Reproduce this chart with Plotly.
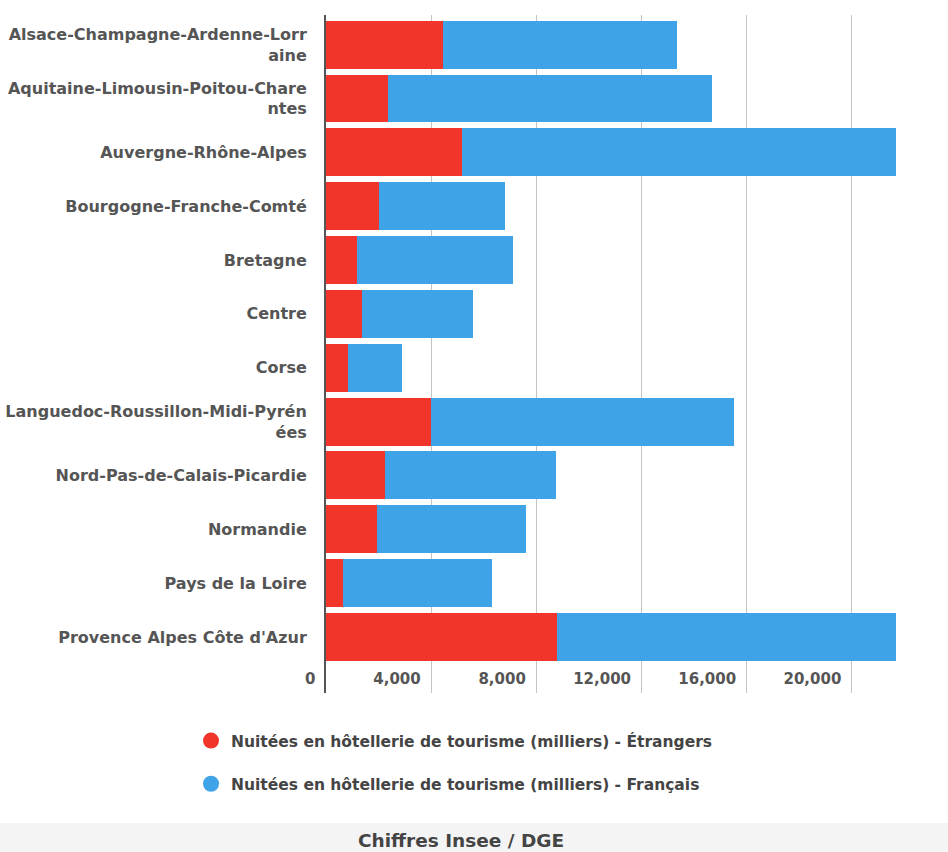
import plotly.graph_objects as go

regions = [
    "Alsace-Champagne-Ardenne-Lorr<br>aine",
    "Aquitaine-Limousin-Poitou-Chare<br>ntes",
    "Auvergne-Rhône-Alpes",
    "Bourgogne-Franche-Comté",
    "Bretagne",
    "Centre",
    "Corse",
    "Languedoc-Roussillon-Midi-Pyrén<br>ées",
    "Nord-Pas-de-Calais-Picardie",
    "Normandie",
    "Pays de la Loire",
    "Provence Alpes Côte d'Azur",
]
etrangers = [4440, 2350, 5160, 2010, 1180, 1370, 830, 3980, 2240, 1940, 650, 8770]
francais = [8920, 12340, 16540, 4780, 5950, 4210, 2050, 11540, 6490, 5650, 5650, 12930]
tick_vals = [0, 4000, 8000, 12000, 16000, 20000]
tick_text = ["0", "4,000", "8,000", "12,000", "16,000", "20,000"]

name_e = "Nuitées en hôtellerie de tourisme (milliers) - Étrangers"
name_f = "Nuitées en hôtellerie de tourisme (milliers) - Français"
RED = "#F2352A"
BLUE = "#3FA4E7"

W, H = 948, 852
L, R, T, B = 326, 51, 15, 159
pw, ph = W - L - R, H - T - B

def px(xpix):
    return (xpix - L) / pw

def py(ypix):
    return (H - B - ypix) / ph

fig = go.Figure()
fig.add_trace(go.Bar(y=regions, x=etrangers, orientation="h", marker_color=RED,
                     marker_line_width=0, name=name_e, showlegend=False))
fig.add_trace(go.Bar(y=regions, x=francais, orientation="h", marker_color=BLUE,
                     marker_line_width=0, name=name_f, showlegend=False))
# legend entries with circular markers (on hidden helper axes)
fig.add_trace(go.Scatter(x=[None], y=[None], mode="markers", name=name_e,
                         marker=dict(color=RED, size=21, symbol="circle"),
                         legendgroup="e", xaxis="x2", yaxis="y2"))
fig.add_trace(go.Scatter(x=[None], y=[None], mode="markers", name=name_f,
                         marker=dict(color=BLUE, size=21, symbol="circle"),
                         legendgroup="f", xaxis="x2", yaxis="y2"))

font_fam = "DejaVu Sans, Verdana, sans-serif"

fig.update_layout(
    width=W, height=H,
    margin=dict(l=L, r=R, t=T, b=B, pad=0, autoexpand=False),
    barmode="stack",
    bargap=0.11,
    plot_bgcolor="white",
    paper_bgcolor="white",
    font=dict(family=font_fam, color="#555555"),
    xaxis=dict(
        range=[0, 21720],
        tickvals=tick_vals, ticktext=[t + "\u00a0\u00a0" for t in tick_text], tickangle=0,
        showgrid=True, gridcolor="#c4c4c4", gridwidth=1,
        zeroline=False, showline=False, automargin=False,
        ticks="", ticklabelposition="inside left", ticklabeloverflow="allow",
        tickfont=dict(size=15, color="#555555", family=font_fam, weight="bold"),
        fixedrange=True,
    ),
    yaxis=dict(
        type="category",
        categoryorder="array", categoryarray=regions,
        range=[12.04, -0.55], automargin=False,
        showline=True, linecolor="#555555", linewidth=2,
        showgrid=False, zeroline=False,
        ticks="", ticklabelstandoff=14,
        tickfont=dict(size=16, color="#555555", family=font_fam, weight="bold"),
    ),
    xaxis2=dict(range=[0, 1], visible=False, overlaying="x"),
    yaxis2=dict(range=[0, 1], visible=False, overlaying="y"),
    legend=dict(
        xref="container", yref="container",
        x=191 / W, y=1 - 724 / H, xanchor="left", yanchor="top",
        orientation="v", traceorder="grouped", tracegroupgap=20,
        font=dict(size=15.5, color="#444444", family=font_fam, weight="bold"),
        bgcolor="rgba(0,0,0,0)",
    ),
    shapes=[dict(type="rect", xref="paper", yref="paper",
                 x0=px(0), x1=px(W), y0=py(823), y1=py(H + 2),
                 fillcolor="#f4f4f4", line_width=0, layer="below")],
    annotations=[dict(text="Chiffres Insee / DGE", xref="paper", yref="paper",
                      x=px(461), y=py(840), xanchor="center", yanchor="middle",
                      showarrow=False,
                      font=dict(size=18.5, color="#444444", family=font_fam, weight="bold"))],
)

fig.write_html(
    "out.html",
    config={"displayModeBar": False},
    post_script="document.body.style.margin='0';document.body.style.overflow='hidden';",
)
